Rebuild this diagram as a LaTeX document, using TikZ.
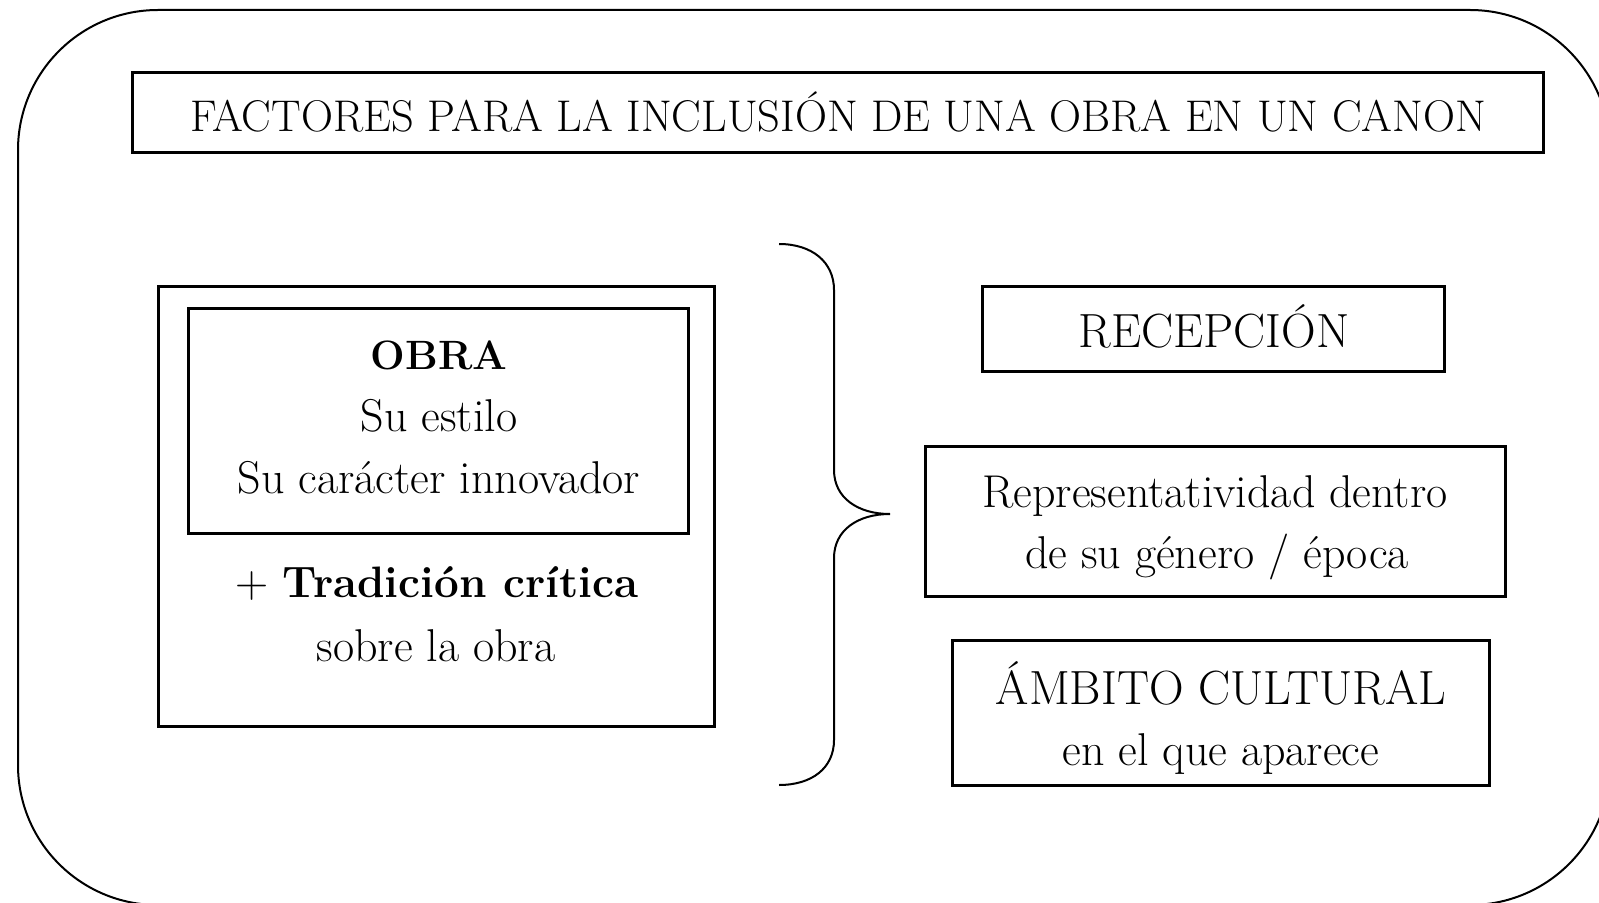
\documentclass[tikz,border=0pt]{standalone}
\usepackage{fontspec}
\usepackage{tikz}
\tikzset{
  frame/.style={draw=black, line width=1pt, rounded corners=70pt},
  factorbox/.style={draw=black, line width=1.5pt, inner sep=0pt},
  caps/.style={anchor=base, inner sep=0pt, font=\fontsize{24}{28}\selectfont},
  plain/.style={anchor=base, inner sep=0pt, font=\fontsize{23}{28}\selectfont},
  heavy/.style={anchor=base, inner sep=0pt, font=\fontsize{20.5}{28}\selectfont\bfseries},
  brace line/.style={draw=black, line width=1pt}
}
\def\FactorBox#1#2#3#4#5{%
  \node[factorbox, minimum width=#4*0.5pt, minimum height=#5*0.5pt] (#1) at (#2,#3) {};
}

\begin{document}
\begin{tikzpicture}[x=0.5pt, y=-0.5pt]
\useasboundingbox (0,0) rectangle (1599,903);
\begin{scope}
  \clip (0,0) rectangle (1599,903);
  \draw[frame] (18,10) rectangle (1610,905);
\end{scope}
% title
\FactorBox{titlebox}{838}{112.5}{1411}{80}
\node[plain, font=\fontsize{22.2}{28}\selectfont] (titletxt) at (838,132)
  {FACTORES PARA LA INCLUSIÓN DE UNA OBRA EN UN CANON};
% left side: the work
\FactorBox{obrabox}{436}{506.5}{556}{439}
\FactorBox{innerbox}{438}{421}{500}{225}
\node[heavy] (obratxt) at (439,370) {OBRA};
\node[plain] (estilotxt) at (439,431) {Su estilo};
\node[plain] (innovtxt) at (439,493) {Su carácter innovador};
\node[plain] (tradtxt) at (437,597)
  {+ {\fontsize{22}{28}\selectfont\bfseries Tradición crítica}};
\node[plain] (sobretxt) at (436,661) {sobre la obra};
% brace
\draw[brace line] (779,244) .. controls (812,244) and (834,262) .. (834,290)
  -- (834,470) .. controls (834,498) and (858,514) .. (890,514)
  .. controls (858,514) and (834,530) .. (834,558)
  -- (834,740) .. controls (834,768) and (812,785) .. (779,785);
% right side: the factors
\FactorBox{recbox}{1213}{329}{462}{84}
\node[caps] (rectxt) at (1214,348) {RECEPCIÓN};
\FactorBox{repbox}{1215}{521}{580}{150}
\node[plain] (reptxt) at (1215,507) {Representatividad dentro};
\node[plain] (epocatxt) at (1217,568) {de su género / época};
\FactorBox{ambbox}{1220.5}{712.5}{537}{145}
\node[caps] (ambtxt) at (1221,704) {ÁMBITO CULTURAL};
\node[plain] (apatxt) at (1221,765) {en el que aparece};
\end{tikzpicture}
\end{document}
